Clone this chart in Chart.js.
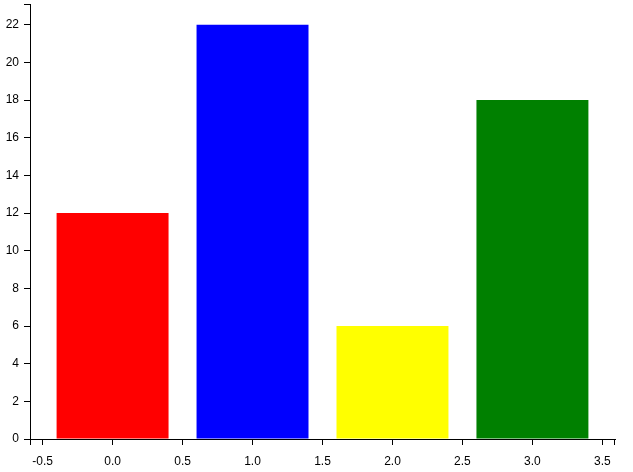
<!DOCTYPE html>
<html>
<head>
<meta charset="utf-8">
<script src="https://cdn.jsdelivr.net/npm/chart.js@4/dist/chart.umd.min.js"></script>
<style>
  body { margin: 0; background: #fff; }
</style>
</head>
<body>
<canvas id="myChart" width="633" height="472"></canvas>
<script>
// datos del grafico
const categorias = [0, 1, 2, 3]
const valores = [12, 22, 6, 18]
const colores = ["red", "blue", "yellow", "green"]
const ticksX = [-0.5, 0, 0.5, 1, 1.5, 2, 2.5, 3, 3.5]
const ticksY = [0, 2, 4, 6, 8, 10, 12, 14, 16, 18, 20, 22]
const rangoX = [-0.59, 3.59]
const rangoY = [0, 23.1]

const fuente = { family: "'Liberation Sans', Arial, sans-serif", size: 12 }

// ejes estilo d3: linea negra y marcas hacia afuera
function ejeBase(min, max, lista, ancho, alto, relleno, formato){
    return {
        type: "linear",
        min,
        max,
        offset: false,
        grid: { offset: false, drawOnChartArea: false, drawTicks: true, tickLength: 6, color: "#000", lineWidth: 1 },
        border: { display: true, color: "#000", width: 1 },
        ticks: {
            autoSkip: false,
            maxRotation: 0,
            padding: relleno,
            color: "#000",
            font: fuente,
            callback: (v) => formato(v)
        },
        afterBuildTicks: (scale) => {
            scale.ticks = lista.map(v => ({ value: v }))
        },
        afterFit: (scale) => {
            if (ancho) scale.width = ancho
            if (alto) scale.height = alto
            // sin margen extra por las etiquetas de los extremos
            scale.paddingTop = 0
            scale.paddingBottom = 0
            scale.paddingLeft = 0
            scale.paddingRight = 0
        }
    }
}

// marcas de los extremos del eje (como el path de d3)
const marcasExtremos = {
    id: "marcasExtremos",
    afterDraw(chart){
        const { ctx, chartArea } = chart
        ctx.save()
        ctx.strokeStyle = "#000"
        ctx.lineWidth = 1
        ctx.beginPath()
        ctx.moveTo(chartArea.left - 6, chartArea.top + 0.5)
        ctx.lineTo(chartArea.left, chartArea.top + 0.5)
        ctx.moveTo(chartArea.left + 0.5, chartArea.bottom)
        ctx.lineTo(chartArea.left + 0.5, chartArea.bottom + 6)
        ctx.moveTo(chartArea.right - 0.5, chartArea.bottom)
        ctx.lineTo(chartArea.right - 0.5, chartArea.bottom + 6)
        ctx.stroke()
        ctx.restore()
    }
}

const canvas = document.querySelector("#myChart")
const myChart = new Chart(canvas, {
    type: "bar",
    data: {
        datasets: [{
            data: categorias.map((c, i) => ({ x: c, y: valores[i] })),
            backgroundColor: colores,
            borderWidth: 0,
            // las marcas cada 0.5 dan el paso minimo (70px); la barra mide 0.8 unidades
            barPercentage: 0.8,
            categoryPercentage: 2
        }]
    },
    options: {
        responsive: false,
        animation: false,
        layout: { padding: { top: 4, right: 18, left: 0, bottom: 0 } },
        plugins: { legend: { display: false }, tooltip: { enabled: false } },
        scales: {
            x: ejeBase(rangoX[0], rangoX[1], ticksX, null, 33, 9, v => v.toFixed(1)),
            y: ejeBase(rangoY[0], rangoY[1], ticksY, 30, null, 5, v => String(v))
        }
    },
    plugins: [marcasExtremos]
})
</script>
</body>
</html>
